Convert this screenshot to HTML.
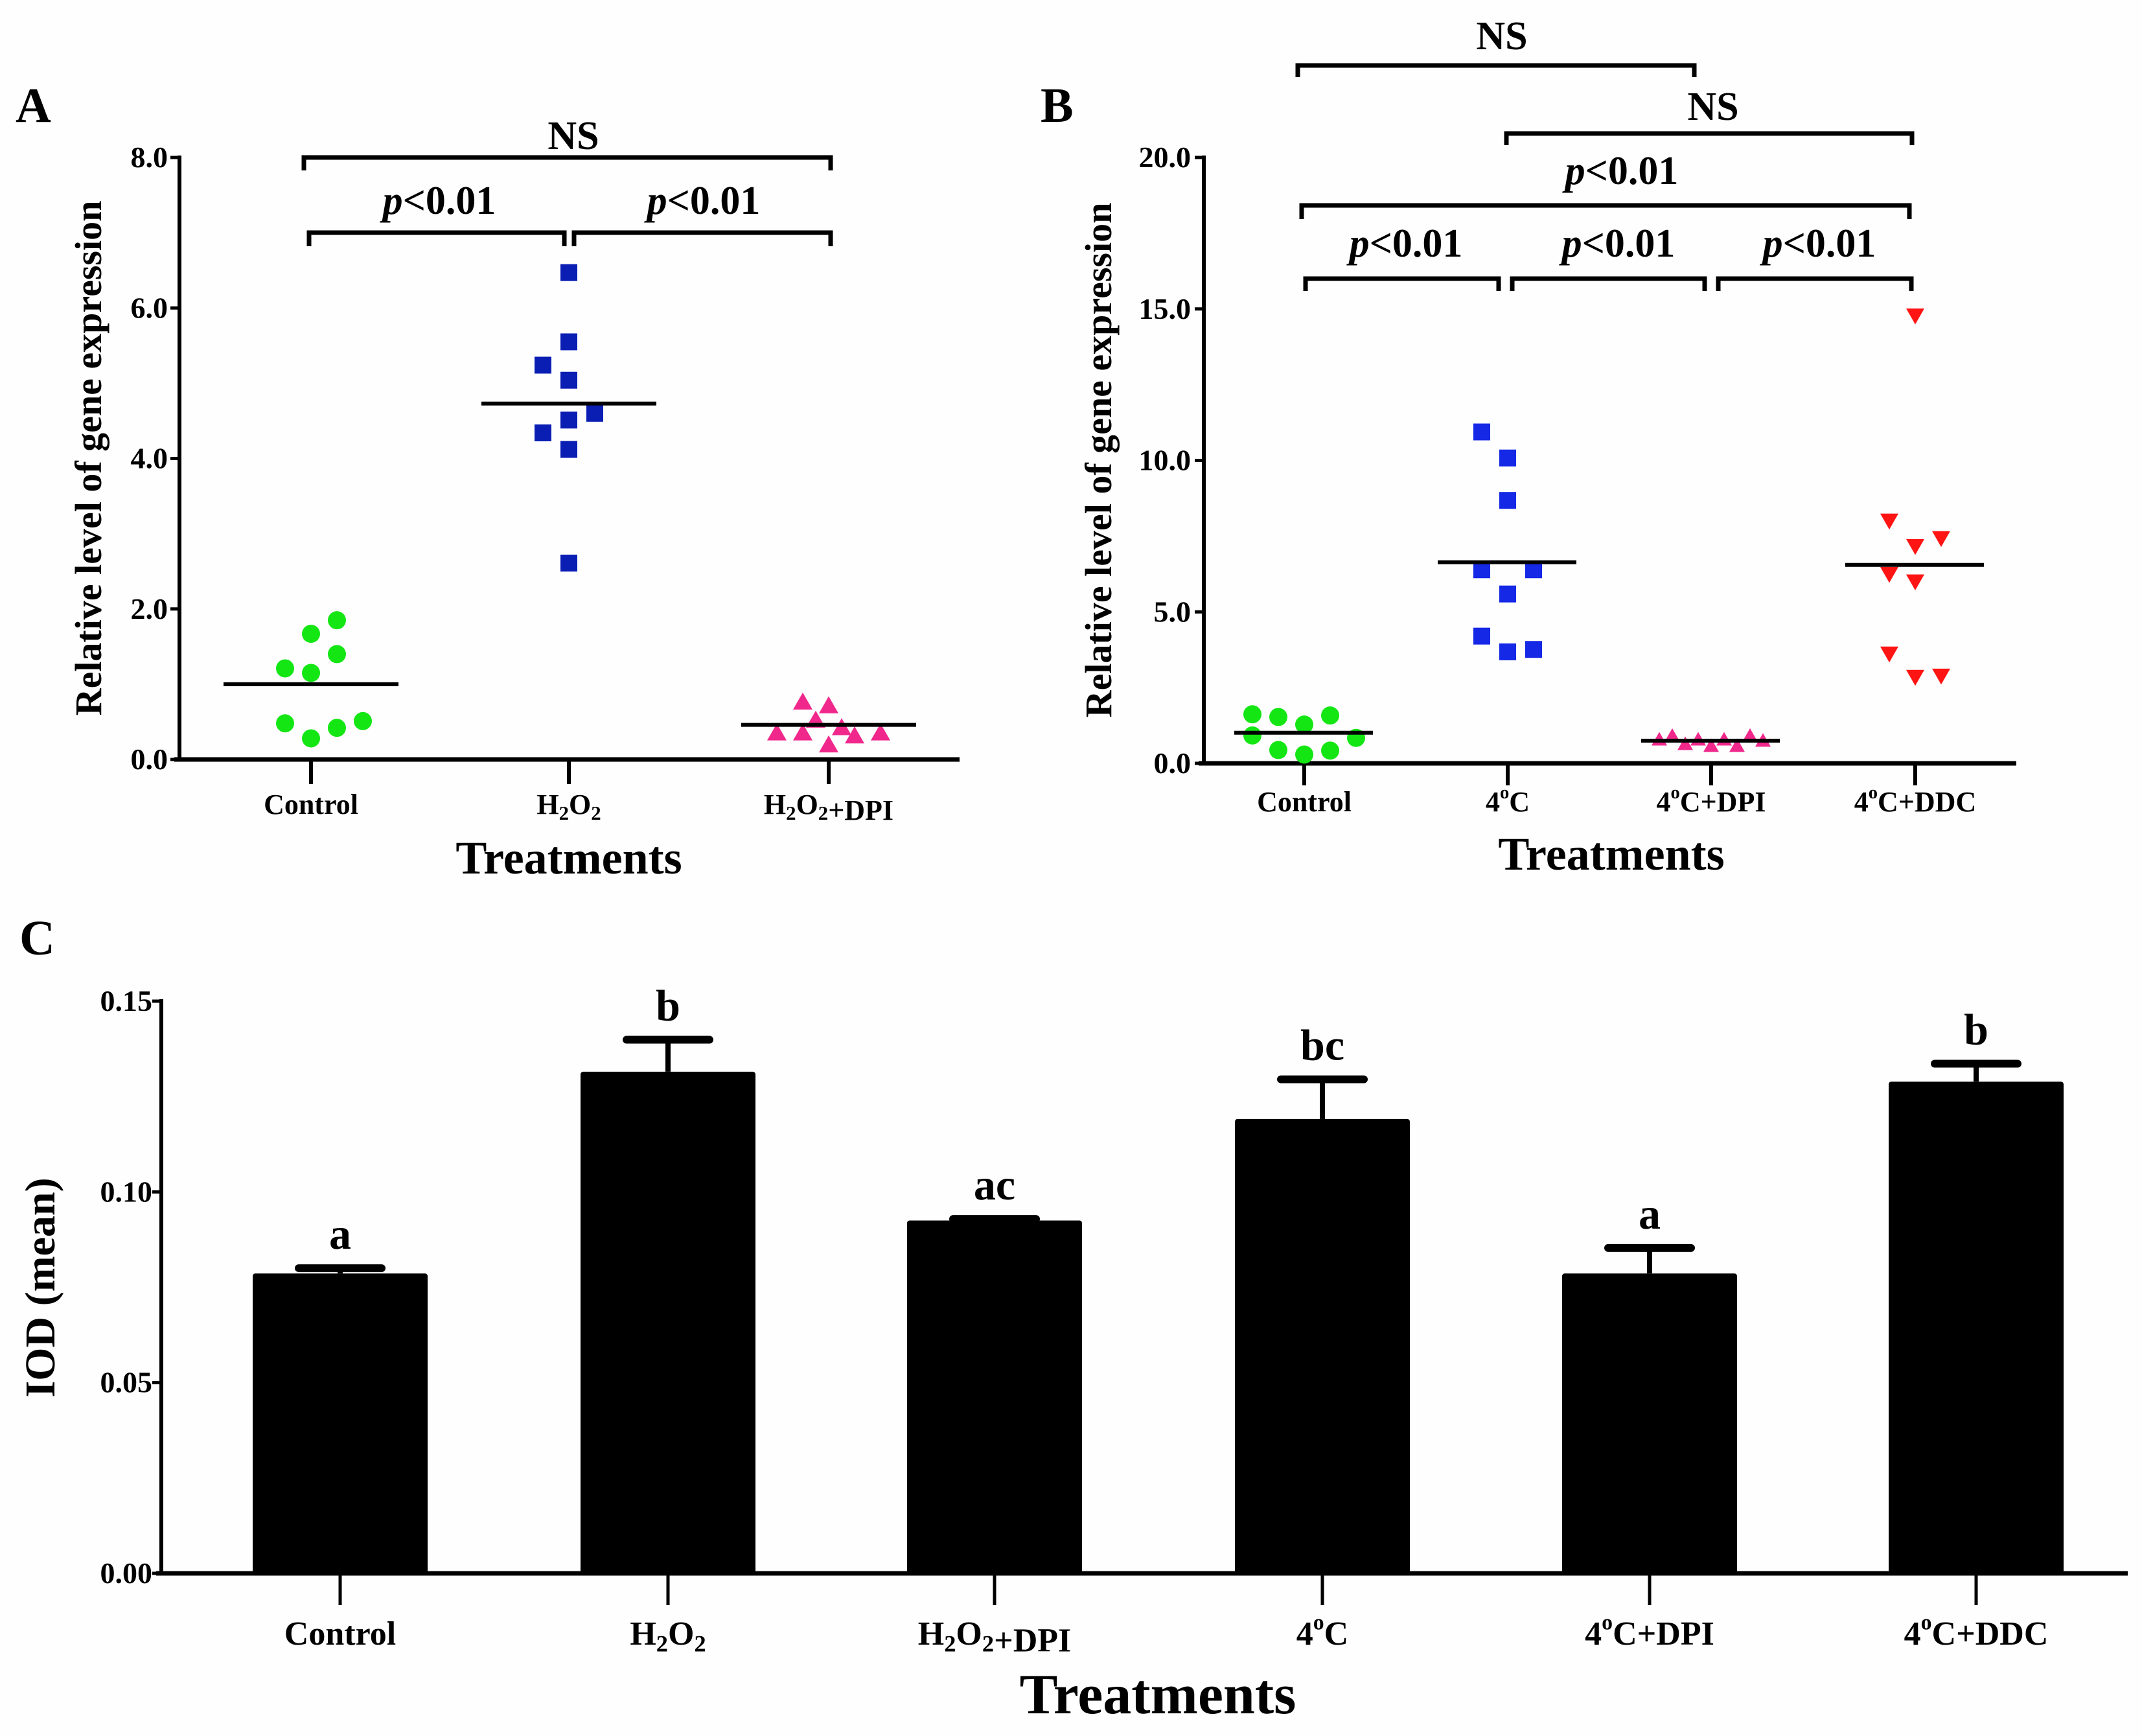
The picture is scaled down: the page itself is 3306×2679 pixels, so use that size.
<!DOCTYPE html>
<html><head><meta charset="utf-8"><style>
html,body{margin:0;padding:0;background:#fff;}
svg{display:block;font-family:"Liberation Serif",serif;font-weight:bold;}
</style></head><body>
<svg id="fig" width="3306" height="2679" viewBox="0 0 3306 2679" xmlns="http://www.w3.org/2000/svg">
<rect width="3306" height="2679" fill="#fefefe"/>
<text x="24" y="188" font-size="76">A</text>
<text x="1606" y="188" font-size="76">B</text>
<text x="30" y="1473" font-size="76">C</text>
<g id="gA"></g>
<g id="gB"></g>
<g id="gC"></g>
</svg>
<script>
// ---- Panel A data ----
const catsA = ["Control","H2O2","H2O2+DPI"];
const ctrlA = [1.85,1.67,1.40,1.21,1.15,0.48,0.28,0.42,0.51];
const ctrlAOff = [1,0,1,-1,0,-1,0,1,2];
const h2o2A = [6.47,5.55,5.24,5.04,4.60,4.51,4.34,4.12,2.61];
const h2o2AOff = [0,0,-1,0,1,0,-1,0,0];
const dpiA = [0.76,0.71,0.52,0.42,0.35,0.35,0.31,0.35,0.19];
const dpiAOff = [-1,0,-0.5,0.5,-2,-1,1,2,0];
const meansA = [1.0,4.73,0.46];
const ticksA = [0,2,4,6,8];
// ---- Panel B data ----
const catsB = ["Control","4oC","4oC+DPI","4oC+DDC"];
const ctrlB = [1.62,1.53,1.58,1.28,0.92,0.84,0.44,0.42,0.29];
const ctrlBOff = [-2,-1,1,0,-2,2,-1,1,0];
const c4B = [10.94,10.08,8.68,6.39,6.39,5.59,4.2,3.76,3.68];
const c4BOff = [-1,0,0,-1,1,0,-1,1,0];
const dpiB = [0.78,0.9,0.63,0.78,0.57,0.78,0.57,0.9,0.74];
const dpiBOff = [-2,-1.5,-1,-0.5,0,0.5,1,1.5,2];
const ddcB = [14.79,8.02,7.44,7.18,6.26,6.01,3.63,2.86,2.9];
const ddcBOff = [0,-1,1,0,-1,0,-1,0,1];
const meansB = [1.01,6.64,0.75,6.55];
const ticksB = [0,5,10,15,20];
// ---- Panel C data ----
const catsC = ["Control","H2O2","H2O2+DPI","4oC","4oC+DPI","4oC+DDC"];
const valsC = [0.0786,0.1315,0.0925,0.1191,0.0786,0.1289];
const errC = [0.0014,0.0084,0.0004,0.0104,0.0067,0.0047];
const lettersC = ["a","b","ac","bc","a","b"];
const ticksC = [0,0.05,0.10,0.15];

const NS="http://www.w3.org/2000/svg";
function mk(parent,tag,attrs,text){const e=document.createElementNS(NS,tag);for(const k in attrs)e.setAttribute(k,attrs[k]);if(text!==undefined)e.textContent=text;parent.appendChild(e);return e;}
function catLabel(parent,x,y,name,fs){
  const t=mk(parent,'text',{x:x,y:y,'font-size':fs,'text-anchor':'middle'});
  let html='';
  const s=name;
  let i=0;
  while(i<s.length){
    if(s.startsWith('H2O2',i)){html+='H<tspan font-size="'+fs*0.7+'" dy="'+fs*0.2+'">2</tspan><tspan dy="'+(-fs*0.2)+'">O</tspan><tspan font-size="'+fs*0.7+'" dy="'+fs*0.2+'">2</tspan><tspan dy="'+(-fs*0.2)+'"></tspan>';i+=4;}
    else if(s.startsWith('4oC',i)){html+='4<tspan font-size="'+fs*0.65+'" dy="'+(-fs*0.45)+'">o</tspan><tspan dy="'+fs*0.45+'">C</tspan>';i+=3;}
    else{html+=s[i];i++;}
  }
  t.innerHTML=html;
  return t;
}
function bracket(parent,x1,x2,y,drop,label,tx,ty,italicP){
  mk(parent,'path',{d:`M${x1},${y+drop}V${y}H${x2}V${y+drop}`,fill:'none',stroke:'#000','stroke-width':7});
  const t=mk(parent,'text',{x:tx,y:ty,'font-size':62,'text-anchor':'middle'});
  if(italicP) t.innerHTML='<tspan font-style="italic">p</tspan>&lt;0.01'; else t.textContent=label;
  return t;
}
function circle(g,x,y,c){return mk(g,'circle',{cx:x,cy:y,r:14,fill:c});}
function square(g,x,y,c){return mk(g,'rect',{x:x-13,y:y-13,width:26,height:26,fill:c});}
function triUp(g,x,y,c,s){return mk(g,'polygon',{points:`${x},${y-s} ${x+s},${y+s*0.75} ${x-s},${y+s*0.75}`,fill:c});}
function triDown(g,x,y,c,s){return mk(g,'polygon',{points:`${x-s},${y-s*0.75} ${x+s},${y-s*0.75} ${x},${y+s}`,fill:c});}

// ===== Panel A =====
(function(){
 const g=document.getElementById('gA');
 const ax=277, y0=1172, yTop=243, xEnd=1481, vmax=8;
 const cx=[480,878,1279];
 const Y=v=>y0-(v/vmax)*(y0-yTop);
 const off=40;
 mk(g,'line',{x1:ax,y1:yTop-3,x2:ax,y2:y0+3,stroke:'#000','stroke-width':6});
 mk(g,'line',{x1:ax-8,y1:y0,x2:xEnd,y2:y0,stroke:'#000','stroke-width':7});
 ticksA.forEach(t=>{
  mk(g,'line',{x1:ax-14,y1:Y(t),x2:ax,y2:Y(t),stroke:'#000','stroke-width':5});
  const e=mk(g,'text',{x:ax-18,y:Y(t)+15,'font-size':46,'text-anchor':'end'},t.toFixed(1));
  
  
 });
 catsA.forEach((c,i)=>{
  mk(g,'line',{x1:cx[i],y1:y0,x2:cx[i],y2:1210,stroke:'#000','stroke-width':6});
  const e=catLabel(g,cx[i],1256,c,44);
  
  
 });
 const xt=mk(g,'text',{x:878,y:1348,'font-size':72,'text-anchor':'middle'},'Treatments');
 
 
 const yt=mk(g,'text',{x:0,y:0,'font-size':58,'text-anchor':'middle',transform:`translate(156,707) rotate(-90)`},'Relative level of gene expression');
 
 
 ctrlA.forEach((v,i)=>{const e=circle(g,cx[0]+ctrlAOff[i]*off,Y(v),'#14e614');});
 h2o2A.forEach((v,i)=>{const e=square(g,cx[1]+h2o2AOff[i]*off,Y(v),'#0a1eb4');});
 dpiA.forEach((v,i)=>{const e=triUp(g,cx[2]+dpiAOff[i]*off,Y(v),'#f0288c',15);});
 meansA.forEach((m,i)=>{const e=mk(g,'line',{x1:cx[i]-135,x2:cx[i]+135,y1:Y(m),y2:Y(m),stroke:'#000','stroke-width':6});});
 let b;
 b=bracket(g,469,1282,243,20,'NS',885,230,false);
 b=bracket(g,477,871,359,21,'',678,330,true);
 b=bracket(g,886,1282,359,21,'',1086,330,true);
})();

// ===== Panel B =====
(function(){
 const g=document.getElementById('gB');
 const ax=1858, y0=1178, yTop=243, xEnd=3112, vmax=20;
 const cx=[2013,2327,2641,2956];
 const Y=v=>y0-(v/vmax)*(y0-yTop);
 const off=40;
 mk(g,'line',{x1:ax,y1:yTop-3,x2:ax,y2:y0+3,stroke:'#000','stroke-width':6});
 mk(g,'line',{x1:ax-8,y1:y0,x2:xEnd,y2:y0,stroke:'#000','stroke-width':7});
 ticksB.forEach(t=>{
  mk(g,'line',{x1:ax-14,y1:Y(t),x2:ax,y2:Y(t),stroke:'#000','stroke-width':5});
  const e=mk(g,'text',{x:ax-20,y:Y(t)+15,'font-size':46,'text-anchor':'end'},t.toFixed(1));
  
  
 });
 catsB.forEach((c,i)=>{
  mk(g,'line',{x1:cx[i],y1:y0,x2:cx[i],y2:1212,stroke:'#000','stroke-width':6});
  const e=catLabel(g,cx[i],1252,c,44);
  
  
 });
 const xt=mk(g,'text',{x:2487,y:1342,'font-size':72,'text-anchor':'middle'},'Treatments');
 
 
 const yt=mk(g,'text',{x:0,y:0,'font-size':58,'text-anchor':'middle',transform:`translate(1715,710) rotate(-90)`},'Relative level of gene expression');
 
 
 ctrlB.forEach((v,i)=>{const e=circle(g,cx[0]+ctrlBOff[i]*off,Y(v),'#14e614');});
 c4B.forEach((v,i)=>{const e=square(g,cx[1]+c4BOff[i]*off,Y(v),'#1428e6');});
 dpiB.forEach((v,i)=>{const e=triUp(g,cx[2]+dpiBOff[i]*off,Y(v),'#f0288c',12);});
 ddcB.forEach((v,i)=>{const e=triDown(g,cx[3]+ddcBOff[i]*off,Y(v),'#ff1414',14);});
 meansB.forEach((m,i)=>{const e=mk(g,'line',{x1:cx[i]-108,x2:cx[i]+106,y1:Y(m),y2:Y(m),stroke:'#000','stroke-width':6});});
 let b;
 b=bracket(g,2003,2615,101,18,'NS',2318,76,false);
 b=bracket(g,2325,2951,206,18,'NS',2644,185,false);
 b=bracket(g,2009,2947,317,21,'',2503,284,true);
 b=bracket(g,2015,2313,430,19,'',2170,396,true);
 b=bracket(g,2334,2631,430,19,'',2498,396,true);
 b=bracket(g,2652,2950,430,19,'',2808,396,true);
})();

// ===== Panel C =====
(function(){
 const g=document.getElementById('gC');
 const ax=249, y0=2428, yTop=1545, xEnd=3284, vmax=0.15;
 const cx=[525,1031,1535,2041,2546,3050];
 const bw=270;
 const Y=v=>y0-(v/vmax)*(y0-yTop);
 catsC.forEach((c,i)=>{
  const top=Y(valsC[i]);
  const capY=Y(valsC[i]+errC[i]);
  const el=mk(g,'line',{x1:cx[i],x2:cx[i],y1:top,y2:capY,stroke:'#000','stroke-width':8});
  
  
  const cap=mk(g,'line',{x1:cx[i]-64,x2:cx[i]+64,y1:capY,y2:capY,stroke:'#000','stroke-width':12,'stroke-linecap':'round'});
  
  
  const r=mk(g,'rect',{x:cx[i]-bw/2,y:top,width:bw,height:y0-top,fill:'#000',rx:4});
  
  
  const lt=mk(g,'text',{x:cx[i],y:capY-30,'font-size':68,'text-anchor':'middle'},lettersC[i]);
  
  
  mk(g,'line',{x1:cx[i],y1:y0,x2:cx[i],y2:2477,stroke:'#000','stroke-width':5});
  const cl=catLabel(g,cx[i],2538,c,52);
  
  
 });
 mk(g,'line',{x1:ax,y1:yTop-3,x2:ax,y2:y0+3,stroke:'#000','stroke-width':6});
 mk(g,'line',{x1:ax-8,y1:y0,x2:xEnd,y2:y0,stroke:'#000','stroke-width':7});
 ticksC.forEach(t=>{
  mk(g,'line',{x1:ax-14,y1:Y(t),x2:ax,y2:Y(t),stroke:'#000','stroke-width':5});
  const e=mk(g,'text',{x:ax-14,y:Y(t)+15,'font-size':46,'text-anchor':'end'},t.toFixed(2));
  
  
 });
 const xt=mk(g,'text',{x:1787,y:2644,'font-size':88,'text-anchor':'middle'},'Treatments');
 
 
 const yt=mk(g,'text',{x:0,y:0,'font-size':66,'text-anchor':'middle',transform:`translate(84,1987) rotate(-90)`},'IOD (mean)');
 
 
})();
</script>
</body></html>
